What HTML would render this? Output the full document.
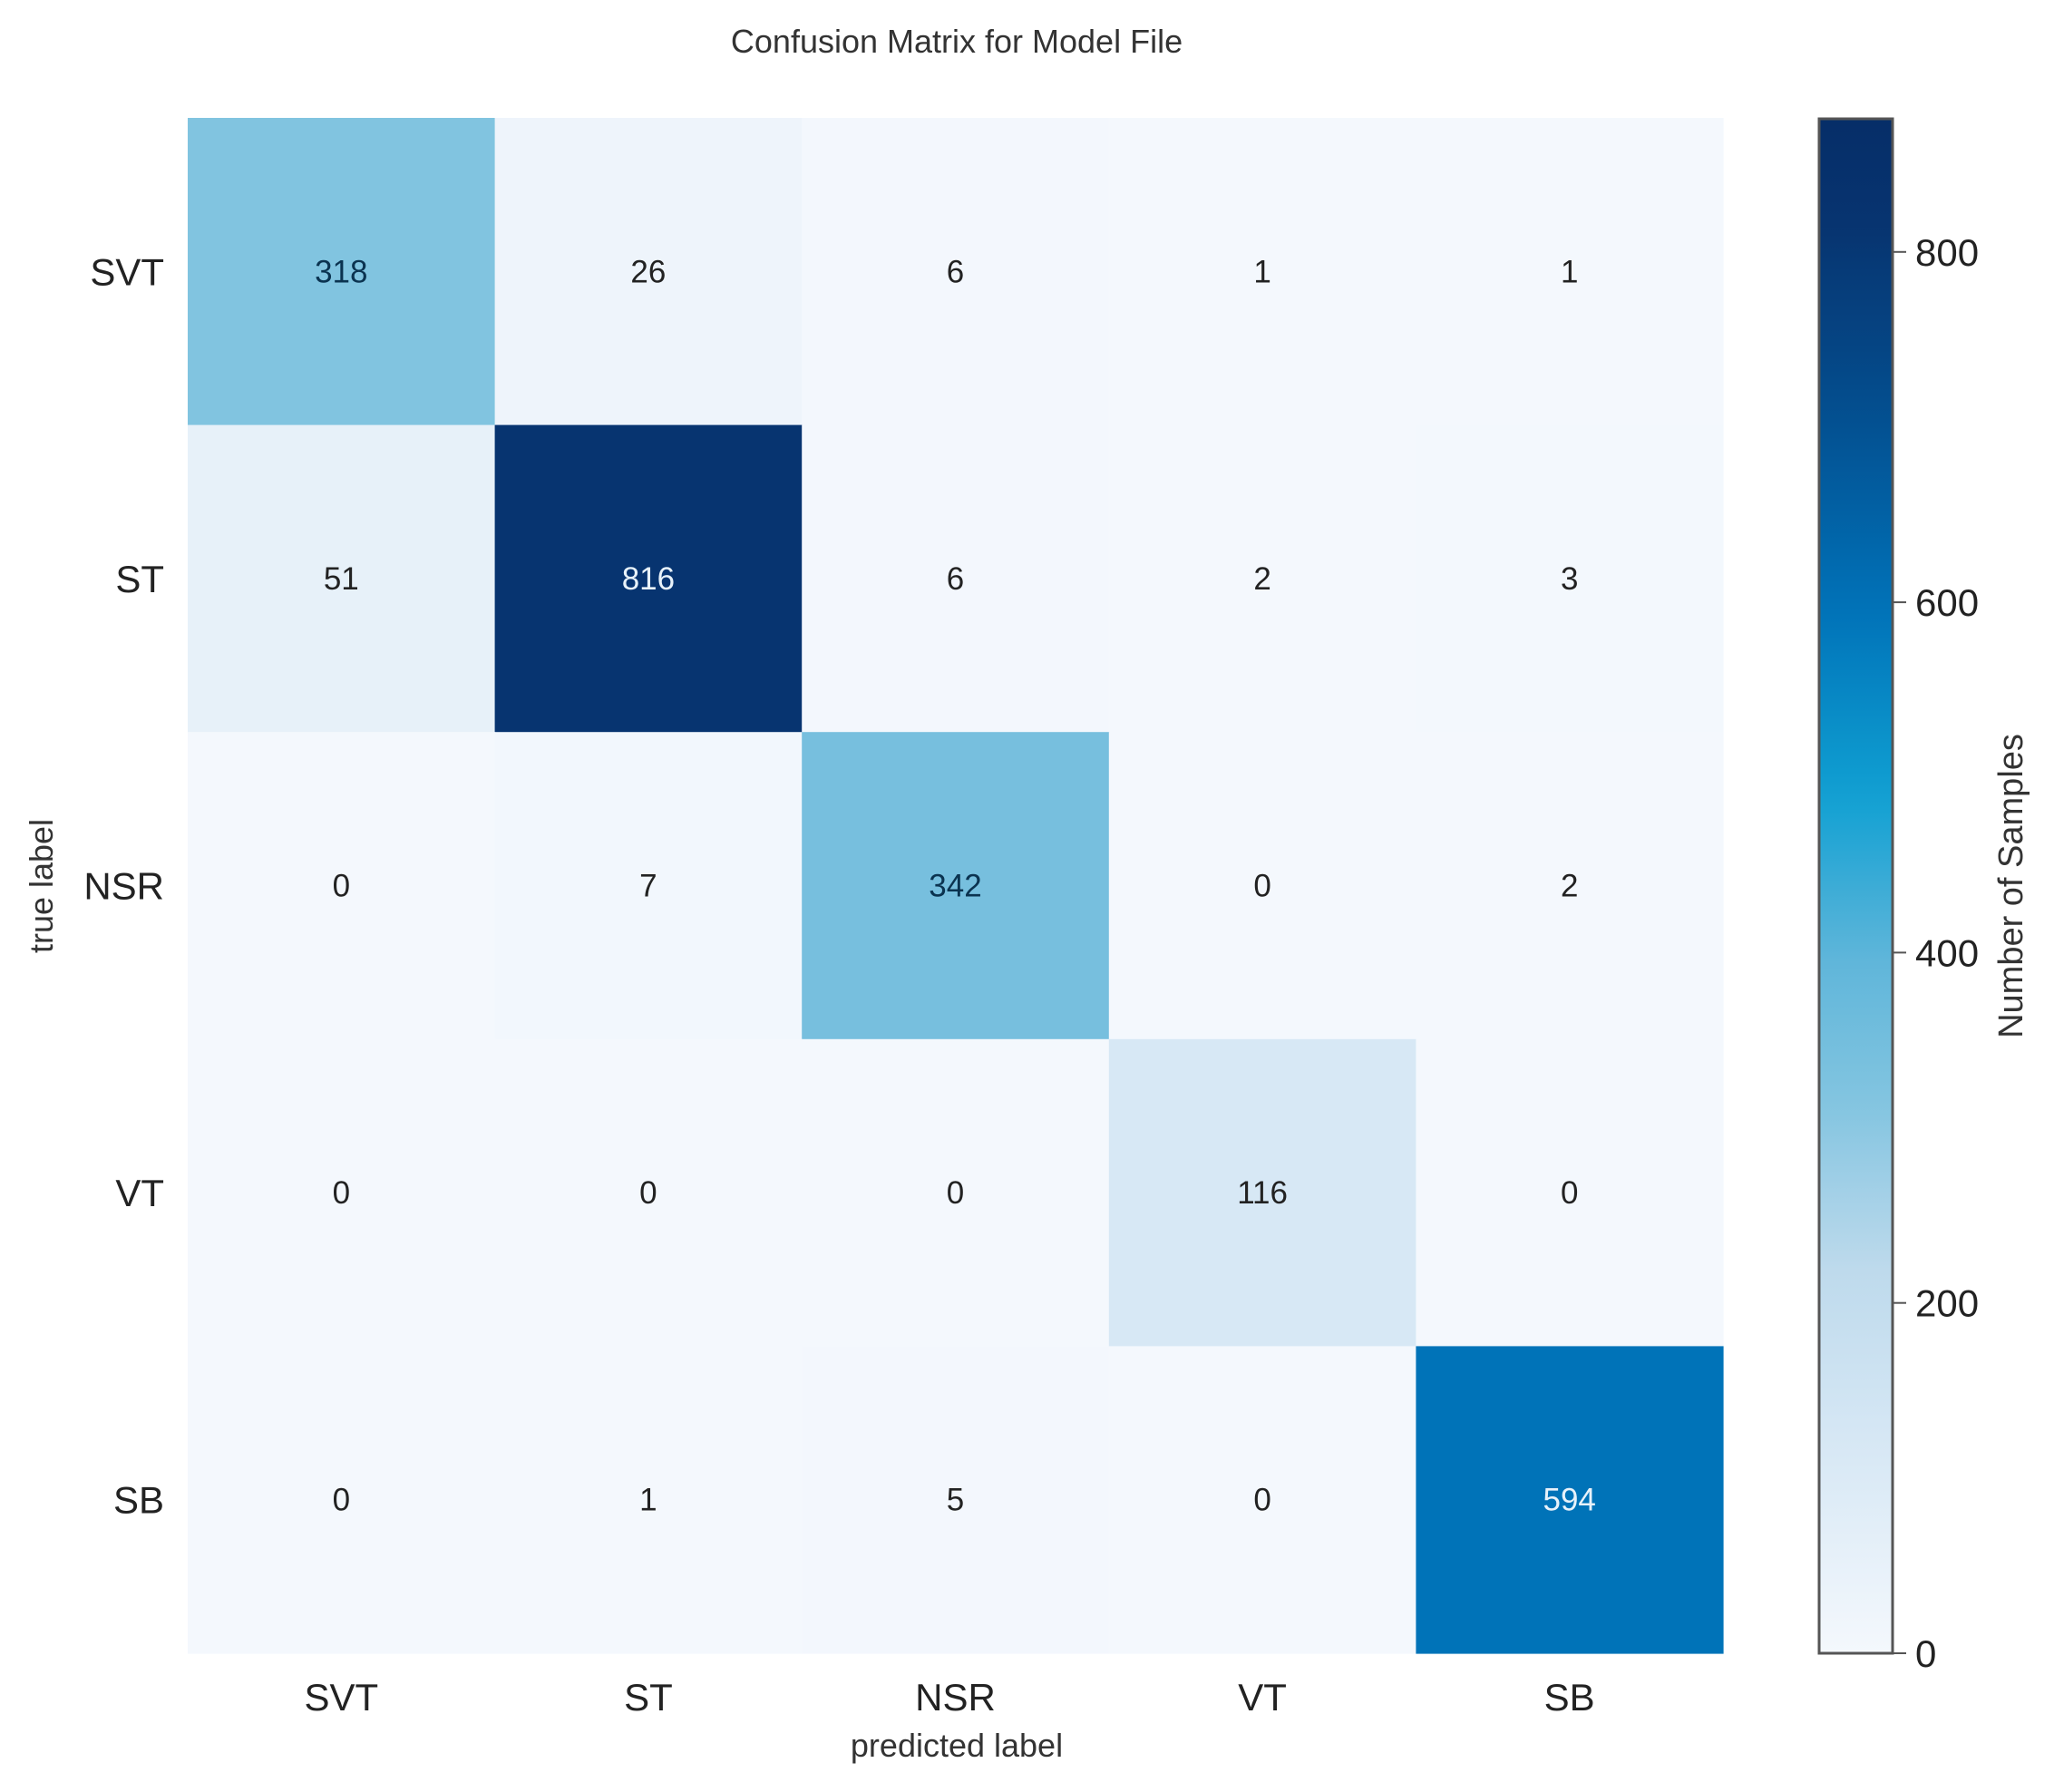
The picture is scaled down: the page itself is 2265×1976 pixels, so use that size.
<!DOCTYPE html>
<html><head><meta charset="utf-8">
<style>
html,body{margin:0;padding:0;background:#fff;}
svg{display:block;font-family:"Liberation Sans",sans-serif;}
</style></head>
<body>
<svg id="chart" width="2265" height="1976" viewBox="0 0 2265 1976" xmlns="http://www.w3.org/2000/svg">
<rect width="2265" height="1976" fill="#ffffff"/>
<text x="1055" y="58" text-anchor="middle" font-size="36" fill="#333">Confusion Matrix for Model File</text>
<g id="cells"></g>
<g id="xticks"></g>
<g id="yticks"></g>
<text x="1055" y="1937" text-anchor="middle" font-size="36" fill="#333">predicted label</text>
<text transform="translate(58,977) rotate(-90)" text-anchor="middle" font-size="36" fill="#333">true label</text>
<defs><linearGradient id="cbgrad" x1="0" y1="1" x2="0" y2="0"></linearGradient></defs>
<rect x="2006" y="131" width="81" height="1692" fill="url(#cbgrad)" stroke="#555" stroke-width="3"/>
<g id="cbticks"></g>
<text transform="translate(2230,977) rotate(-90)" text-anchor="middle" font-size="38" fill="#333">Number of Samples</text>
</svg>
<script>
const categories = ["SVT","ST","NSR","VT","SB"];
const row0 = [318,26,6,1,1];
const row1 = [51,816,6,2,3];
const row2 = [0,7,342,0,2];
const row3 = [0,0,0,116,0];
const row4 = [0,1,5,0,594];
const matrix = [row0,row1,row2,row3,row4];
const vmax = 876;
const cbTicks = [0,200,400,600,800];

const NS = "http://www.w3.org/2000/svg";
const gx = 207, gy = 130, gsize = 1693;
const cbRight = 2087, cbTickLen = 15, cbLabelX = 2112, cbBottom = 1823, cbHeight = 1692;
const cellSz = gsize / categories.length;
const stops = [[0,[244,248,253]],[0.13,[216,232,245]],[0.25,[190,218,236]],[0.36,[130,196,224]],[0.45,[96,182,218]],[0.56,[16,160,210]],[0.68,[0,114,184]],[0.82,[4,76,140]],[0.93,[7,52,112]],[1,[6,46,104]]];
function color(v){
  const t=Math.max(0,Math.min(1,v/vmax));
  for(let i=1;i<stops.length;i++){
    if(t<=stops[i][0]){
      const a=stops[i-1],b=stops[i],f=(t-a[0])/(b[0]-a[0]);
      const c=a[1].map((x,k)=>Math.round(x+(b[1][k]-x)*f));
      return `rgb(${c.join(',')})`;
    }
  }
  return "rgb(6,46,104)";
}
function xPos(i){return gx+cellSz*i;}
function yPos(j){return gy+cellSz*j;}
function cbY(v){return cbBottom - (v/vmax)*cbHeight;}

const cg=document.getElementById('cells');
matrix.forEach((row,j)=>row.forEach((v,i)=>{
  const r=document.createElementNS(NS,'rect');
  
  
  r.setAttribute('x',xPos(i));r.setAttribute('y',yPos(j));
  r.setAttribute('width',cellSz+0.6);r.setAttribute('height',cellSz+0.6);
  r.setAttribute('fill',color(v));
  cg.appendChild(r);
  const t=document.createElementNS(NS,'text');
  
  
  t.setAttribute('x',xPos(i)+cellSz/2);t.setAttribute('y',yPos(j)+cellSz/2+12);
  t.setAttribute('text-anchor','middle');t.setAttribute('font-size','35');
  t.setAttribute('fill', v>vmax*0.6?'#e8f2fa':(v>vmax*0.3?'#0b3350':'#222'));
  t.textContent=v;
  cg.appendChild(t);
}));
const xg=document.getElementById('xticks');
categories.forEach((c,i)=>{
  const t=document.createElementNS(NS,'text');
  
  
  t.setAttribute('x',xPos(i)+cellSz/2);t.setAttribute('y',1886);
  t.setAttribute('text-anchor','middle');t.setAttribute('font-size','42');t.setAttribute('fill','#222');
  t.textContent=c;xg.appendChild(t);
});
const yg=document.getElementById('yticks');
categories.forEach((c,j)=>{
  const t=document.createElementNS(NS,'text');
  
  
  t.setAttribute('x',181);t.setAttribute('y',yPos(j)+cellSz/2+15);
  t.setAttribute('text-anchor','end');t.setAttribute('font-size','42');t.setAttribute('fill','#222');
  t.textContent=c;yg.appendChild(t);
});
const grad=document.getElementById('cbgrad');
for(let k=0;k<=40;k++){
  const s=document.createElementNS(NS,'stop');
  s.setAttribute('offset',k/40);
  s.setAttribute('stop-color',color(vmax*k/40));
  grad.appendChild(s);
}
const cbg=document.getElementById('cbticks');
cbTicks.forEach(v=>{
  const l=document.createElementNS(NS,'line');
  
  
  l.setAttribute('x1',cbRight);l.setAttribute('x2',cbRight+cbTickLen);
  l.setAttribute('y1',cbY(v));l.setAttribute('y2',cbY(v));
  l.setAttribute('stroke','#555');l.setAttribute('stroke-width','2');
  cbg.appendChild(l);
  const t=document.createElementNS(NS,'text');
  
  
  t.setAttribute('x',cbLabelX);t.setAttribute('y',cbY(v)+15);
  t.setAttribute('font-size','42');t.setAttribute('fill','#222');
  t.textContent=v;cbg.appendChild(t);
});
</script>
</body></html>
